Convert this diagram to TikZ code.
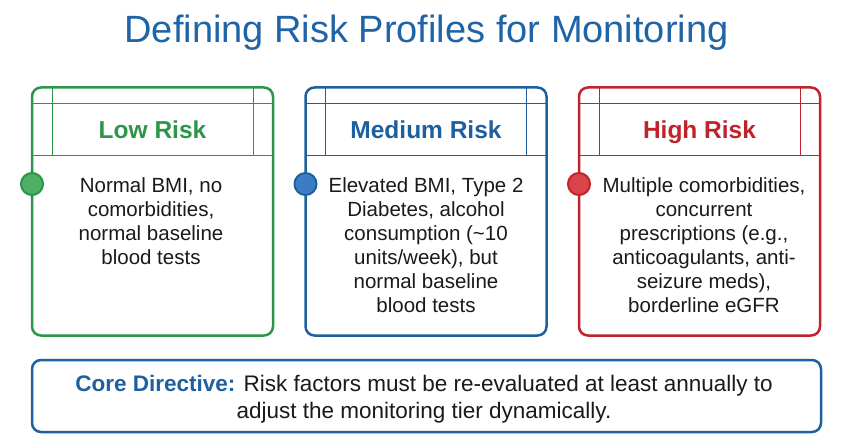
\documentclass[tikz,border=0pt]{standalone}
\usepackage{fontspec}
\setmainfont{Liberation Sans}
\usetikzlibrary{calc}
\definecolor{tgreen}{RGB}{44,150,72}
\definecolor{tgreenf}{RGB}{76,175,100}
\definecolor{tblue}{RGB}{30,96,158}
\definecolor{tbluef}{RGB}{59,124,196}
\definecolor{tred}{RGB}{192,35,43}
\definecolor{tredf}{RGB}{217,69,74}
\definecolor{ttitle}{RGB}{30,100,166}
\definecolor{ttext}{RGB}{26,26,26}
\tikzset{
  riskbox/.style={draw=#1, line width=2.5pt, rounded corners=9pt, minimum width=241pt, minimum height=248pt, outer sep=0pt, inner sep=0pt, fill=white},
  hdrline/.style={draw=#1, line width=1pt},
  riskdot/.style={circle, draw=#1, line width=2pt, minimum size=22pt, inner sep=0pt},
  hdrtext/.style={font=\fontsize{24.5}{28}\selectfont\bfseries, text=#1, anchor=base, inner sep=0pt},
  bodytext/.style={font=\fontsize{20.5}{24}\selectfont, text=ttext, align=center, anchor=north, inner sep=0pt},
}
\begin{document}
\begin{tikzpicture}[x=1pt,y=-1pt]
\useasboundingbox[fill=white] (0,0) rectangle (846,446);
\node[font=\fontsize{38}{44}\selectfont, text=ttitle, anchor=base, inner sep=0pt] (title) at (426.5,43) {Defining Risk Profiles for Monitoring};

% boxes
\foreach \nm/\cx/\col/\fcol in {low/152.5/tgreen/tgreenf, med/426/tblue/tbluef, high/699.5/tred/tredf}{
  \node[riskbox=\col] (\nm) at (\cx,211.5) {};
  \draw[hdrline=\col] ($(\nm.north west)+(0,16)$) -- ($(\nm.north east)+(0,16)$);
  \draw[hdrline=\col] ($(\nm.north west)+(0,68)$) -- ($(\nm.north east)+(0,68)$);
  \draw[hdrline=\col] ($(\nm.north west)+(20,0)$) -- ($(\nm.north west)+(20,68)$);
  \draw[hdrline=\col] ($(\nm.north east)+(-20,0)$) -- ($(\nm.north east)+(-20,68)$);
  \node[riskdot=\col, fill=\fcol] (\nm dot) at ($(\nm.north west)+(0,96.5)$) {};
}

\node[hdrtext=tgreen] (lowhdr) at (152.5,139) {Low Risk};
\node[hdrtext=tblue] (medhdr) at (426,139) {Medium Risk};
\node[hdrtext=tred] (highhdr) at (699.5,139) {High Risk};

\node[bodytext] (lowbody) at (151,177) {Normal BMI, no\\comorbidities,\\normal baseline\\blood tests};
\node[bodytext] (medbody) at (426,177) {Elevated BMI, Type 2\\Diabetes, alcohol\\consumption (\textasciitilde10\\units/week), but\\normal baseline\\blood tests};
\node[bodytext] (highbody) at (704,177) {Multiple comorbidities,\\concurrent\\prescriptions (e.g.,\\anticoagulants, anti-\\seizure meds),\\borderline eGFR};

% directive
\node[draw=tblue, line width=2.5pt, rounded corners=9pt, minimum width=789pt, minimum height=72pt, outer sep=0pt] (core) at (426.5,396) {};
\node[font=\fontsize{22.5}{27}\selectfont, text=ttext, align=center, anchor=north, inner sep=0pt] (coretext) at (424,375) {{\bfseries\color{tblue}Core Directive:} Risk factors must be re-evaluated at least annually to\\adjust the monitoring tier dynamically.};
\end{tikzpicture}
\end{document}
